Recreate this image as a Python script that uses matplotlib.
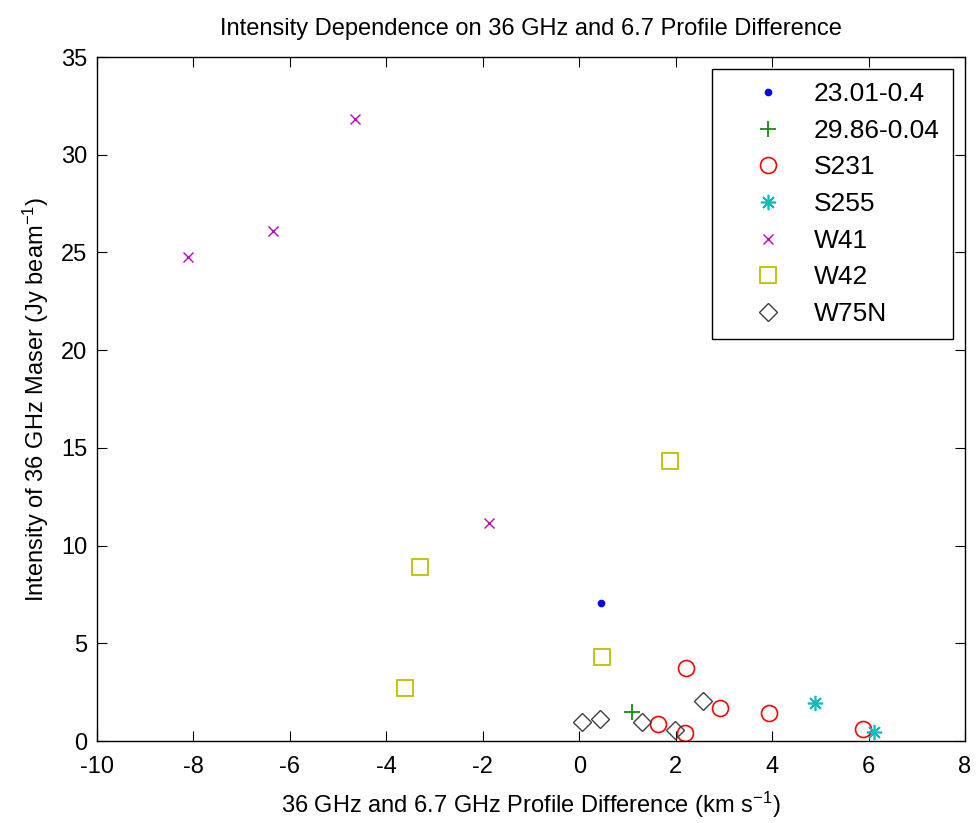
import matplotlib
matplotlib.use('Agg')
import matplotlib.pyplot as plt

plt.rcParams['font.family'] = ['Liberation Sans', 'DejaVu Sans']
plt.rcParams['mathtext.default'] = 'regular'
plt.rcParams['axes.unicode_minus'] = False

# data
x_2301 = [0.46]
y_2301 = [7.06]
x_2986 = [1.09]
y_2986 = [1.50]
x_s231 = [2.22, 2.93, 3.93, 1.63, 2.20, 5.88]
y_s231 = [3.75, 1.70, 1.42, 0.87, 0.39, 0.60]
x_s255 = [4.88, 6.12]
y_s255 = [1.93, 0.48]
x_w41 = [-8.11, -6.35, -4.65, -1.87]
y_w41 = [24.77, 26.10, 31.83, 11.16]
x_w42 = [1.89, -3.30, 0.48, -3.61]
y_w42 = [14.33, 8.90, 4.30, 2.71]
x_w75n = [0.05, 0.44, 1.30, 1.99, 2.57]
y_w75n = [0.99, 1.11, 0.99, 0.56, 2.05]

fs = 17

fig = plt.figure(figsize=(9.76, 8.23), dpi=100)
ax = fig.add_axes([0.0994, 0.0996, 0.8893, 0.8311])

ax.plot(x_2301, y_2301, ls='none', marker='.', color='#0000ff', ms=9, label='23.01-0.4')
ax.plot(x_2986, y_2986, ls='none', marker='+', color='#008000', ms=12, mew=1.2, label='29.86-0.04')
ax.plot(x_s231, y_s231, ls='none', marker='o', mfc='none', mec='#ff0000', ms=11.5, mew=1.2, label='S231')
ax.plot(x_s255, y_s255, ls='none', marker=(8, 2, 0), color='#00bfbf', ms=11, mew=1.2, label='S255')
ax.plot(x_w41, y_w41, ls='none', marker='x', color='#bf00bf', ms=7, mew=1.0, label='W41')
ax.plot(x_w42, y_w42, ls='none', marker='s', mfc='none', mec='#bfbf00', ms=12, mew=1.3, label='W42')
ax.plot(x_w75n, y_w75n, ls='none', marker='D', mfc='none', mec='#404040', ms=9.5, mew=1.0, label='W75N')

ax.set_xlim(-10, 8)
ax.set_ylim(0, 35)
ax.set_xticks(range(-10, 9, 2))
ax.set_yticks(range(0, 36, 5))
ax.tick_params(direction='in', top=True, right=True, length=7, labelsize=fs)
ax.tick_params(axis='x', pad=11)
ax.tick_params(axis='y', pad=7)
for s in ax.spines.values():
    s.set_linewidth(1.0)

ax.set_title('Intensity Dependence on 36 GHz and 6.7 Profile Difference', fontsize=fs, pad=16)
ax.set_xlabel('36 GHz and 6.7 GHz Profile Difference (km s$^{-1}$)', fontsize=fs, labelpad=8)
ax.set_ylabel('Intensity of 36 GHz Maser (Jy beam$^{-1}$)', fontsize=fs, labelpad=7)

leg = ax.legend(loc='upper right', fontsize=19, fancybox=False, edgecolor='black',
                framealpha=1, borderpad=0.5, labelspacing=0.48, handlelength=3.2,
                handletextpad=0.15, borderaxespad=0.45)
leg.get_frame().set_linewidth(1.0)

fig.savefig('out.png', dpi=100)
